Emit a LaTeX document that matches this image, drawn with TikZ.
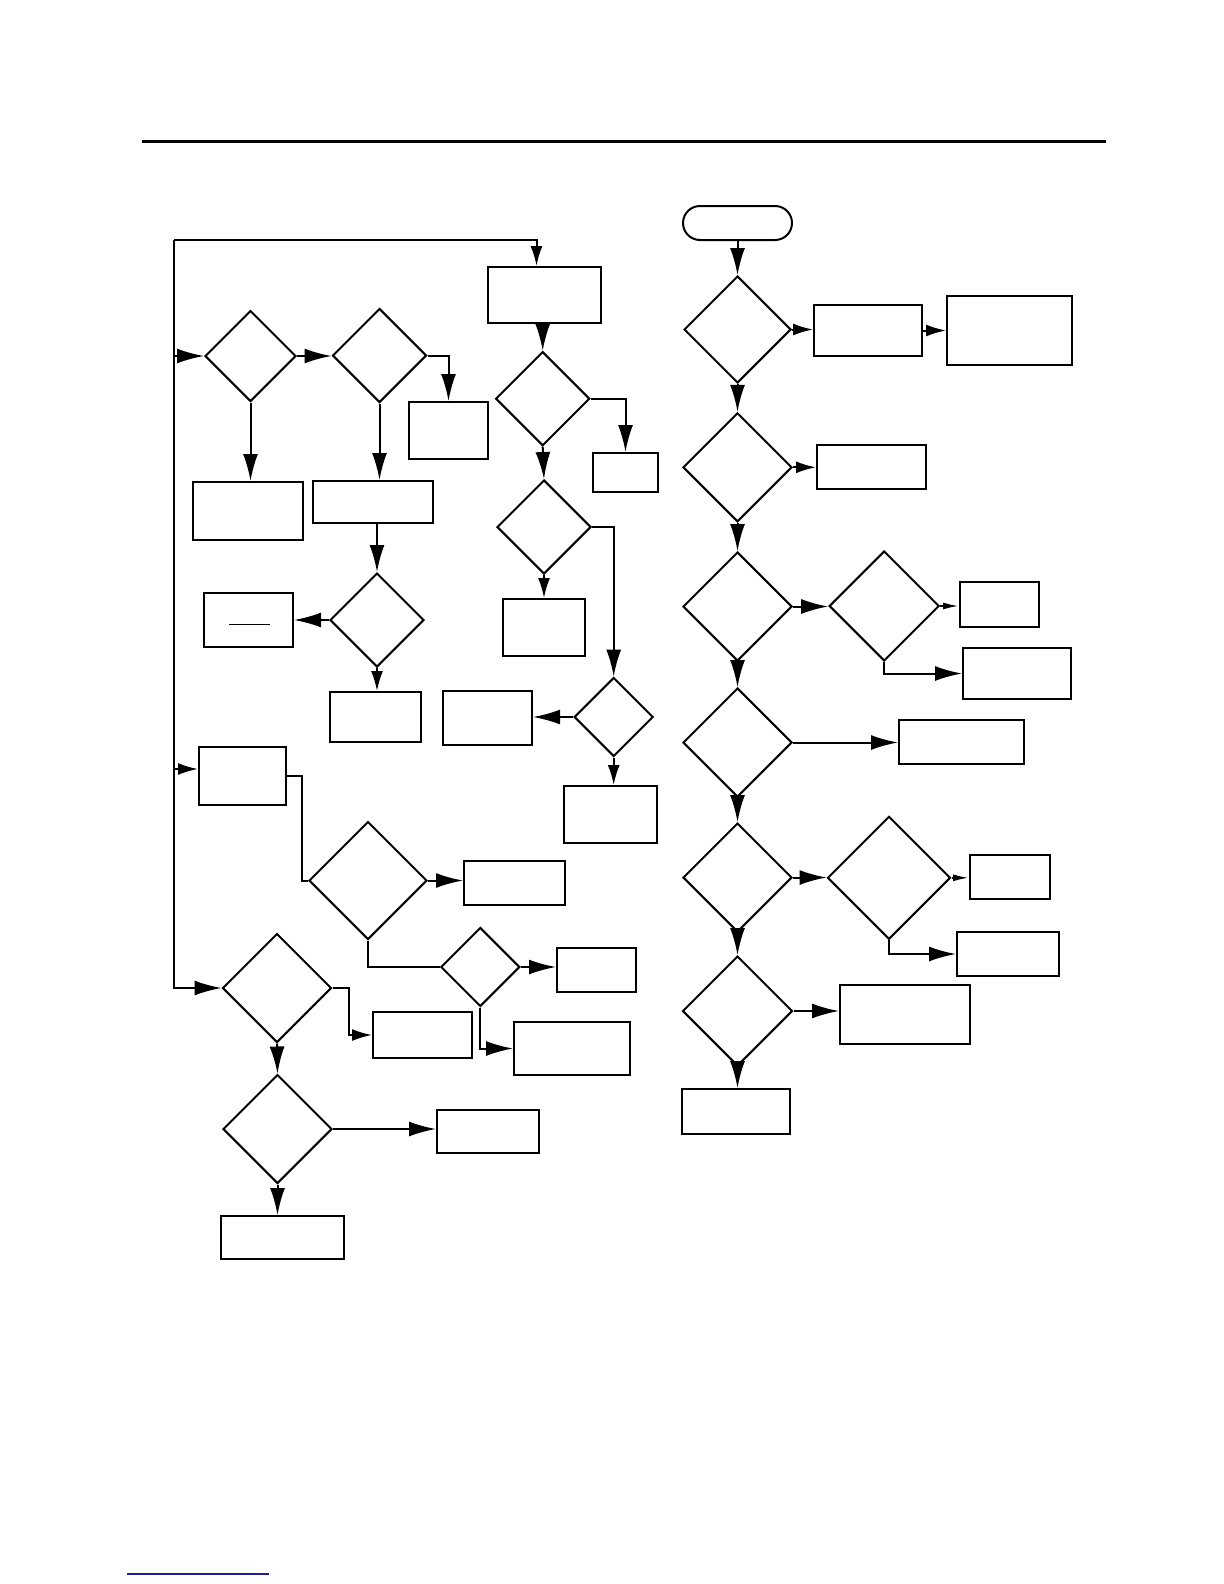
\documentclass[tikz,border=0pt]{standalone}
\usepackage{tikz}
\usetikzlibrary{arrows.meta,shapes.geometric}

\definecolor{linkblue}{RGB}{30,30,150}

\begin{document}
\begin{tikzpicture}[
  x=0.5bp, y=-0.5bp,
  line width=1bp,
  box/.style={draw, rectangle, inner sep=0pt},
  dec/.style={draw, diamond, inner sep=0pt, minimum size=#1},
  term/.style={draw, rectangle, rounded corners=8.5bp, inner sep=0pt},
  arr/.style={-{Latex[length=13.5bp,width=7.5bp]}},
  arrmd/.style={-{Latex[length=10bp,width=6bp]}},
  arrsm/.style={-{Latex[length=8bp,width=3.5bp]}},
]
\useasboundingbox (0,0) rectangle (1224,1584);

% page rules
\draw[line width=1.5bp] (142,141.5) -- (1106,141.5);
\draw[linkblue, line width=0.7bp] (127,1574) -- (269,1574);

% left part
\node[box, minimum width=56.5bp, minimum height=28bp] (init) at (544.5,295) {};
\node[dec=45.5bp] (q1) at (250.5,356) {};
\node[dec=47bp] (q2) at (379.5,355.5) {};
\node[box, minimum width=39.5bp, minimum height=28.5bp] (b2) at (448.5,430.5) {};
\node[box, minimum width=55bp, minimum height=29bp] (b1) at (248,511) {};
\node[box, minimum width=60bp, minimum height=21bp] (b3) at (373,502) {};
\node[dec=47bp] (q6) at (377,620) {};
\node[box, minimum width=44.5bp, minimum height=27bp] (frac) at (248.5,620) {};
\draw[line width=0.5bp] ([shift={(-19.5,4)}]frac.center) -- ([shift={(21.5,4)}]frac.center);
\node[box, minimum width=45.5bp, minimum height=25bp] (b6) at (375.5,717) {};

\node[dec=47bp] (q3) at (542.7,398.7) {};
\node[box, minimum width=32.5bp, minimum height=19.5bp] (b4) at (625.5,472.5) {};
\node[dec=47bp] (q4) at (544,527) {};
\node[box, minimum width=41bp, minimum height=28.5bp] (b5) at (544,627.5) {};
\node[dec=39.5bp] (q5) at (613.7,717) {};
\node[box, minimum width=44.5bp, minimum height=27bp] (b7) at (487.5,718) {};
\node[box, minimum width=46.5bp, minimum height=28.5bp] (b8) at (610.5,814.5) {};

\node[box, minimum width=43.5bp, minimum height=29bp] (loop) at (242.5,776) {};
\node[dec=59bp] (q7) at (368,880.5) {};
\node[box, minimum width=50.5bp, minimum height=22bp] (b9) at (514.5,883) {};
\node[dec=39.5bp] (q8) at (480.3,967) {};
\node[box, minimum width=39.5bp, minimum height=22bp] (b10) at (596.5,970) {};
\node[box, minimum width=58bp, minimum height=26.5bp] (b11) at (572,1048.5) {};

\node[dec=54.5bp] (q9) at (277,988) {};
\node[box, minimum width=49.5bp, minimum height=23bp] (b12) at (422.5,1035) {};
\node[dec=54.5bp] (q10) at (277.5,1129) {};
\node[box, minimum width=51bp, minimum height=21.5bp] (b13) at (488,1131.5) {};
\node[box, minimum width=61.5bp, minimum height=21.5bp] (b14) at (282.5,1237.5) {};

% right part
\node[term, minimum width=54.5bp, minimum height=17bp] (start) at (737.5,223) {};
\node[dec=53.5bp] (r1) at (737.5,329.5) {};
\node[box, minimum width=54bp, minimum height=25.5bp] (c1) at (868,330.5) {};
\node[box, minimum width=62.5bp, minimum height=34.5bp] (c2) at (1009.5,330.5) {};
\node[dec=54.5bp] (r2) at (737.5,467.3) {};
\node[box, minimum width=54.5bp, minimum height=22bp] (c3) at (871.5,467) {};
\node[dec=54.5bp] (r3) at (737.5,606.5) {};
\node[dec=55bp] (r4) at (884.2,606) {};
\node[box, minimum width=39.5bp, minimum height=22.5bp] (c4) at (999.5,604.5) {};
\node[box, minimum width=54bp, minimum height=25.5bp] (c5) at (1017,673.5) {};
\node[dec=54.5bp] (r5) at (737.5,742.5) {};
\node[box, minimum width=62.5bp, minimum height=22bp] (c6) at (961.5,742) {};
\node[dec=54.5bp] (r6) at (737.5,877.5) {};
\node[dec=61.5bp] (r7) at (889,877.8) {};
\node[box, minimum width=40bp, minimum height=22bp] (c7) at (1010,877) {};
\node[box, minimum width=51bp, minimum height=22bp] (c8) at (1008,954) {};
\node[dec=55bp] (r8) at (737.5,1011) {};
\node[box, minimum width=65bp, minimum height=29.5bp] (c9) at (905,1014.5) {};
\node[box, minimum width=54bp, minimum height=22.5bp] (c10) at (736,1111.5) {};

% trunk on the left
\coordinate (top) at (174,240);
\draw[arrmd] (top) -| ([xshift=-4bp]init.north);
\draw[arr] (top) |- (q9.west);
\draw[arr] (top |- q1.west) -- (q1.west);
\draw[arrmd] ([yshift=3.5bp]loop.west -| top) -- ([yshift=3.5bp]loop.west);

% left connectors
\draw[arr] (q1.east) -- (q1.east -| q2.west);
\draw[arr] (q2.east) -| (b2.north);
\draw[arr] (q1.south) -- (q1.south |- b1.north);
\draw[arr] (q2.south) -- (q2.south |- b3.north);
\draw[arr] (b3.south -| q6.north) -- (q6.north);
\draw[arr] (q6.west) -- (frac.east);
\draw[arrmd] (q6.south) -- (q6.south |- b6.north);
\draw[arr] (init.south -| q3.north) -- (q3.north);
\draw[arr] (q3.east) -| (b4.north);
\draw[arr] (q3.south) -- (q4.north);
\draw[arr] (q4.east) -| (q5.north);
\draw[arrmd] (q4.south) -- (q4.south |- b5.north);
\draw[arr] (q5.west) -- (q5.west -| b7.east);
\draw[arrmd] (q5.south) -- (q5.south |- b8.north);
\draw (loop.east) -- ++(7.5bp,0) |- (q7.west);
\draw[arr] (q7.east) -- (q7.east -| b9.west);
\draw (q7.south) |- (q8.west);
\draw[arr] (q8.east) -- (q8.east -| b10.west);
\draw[arr] (q8.south) |- (b11.west);
\draw[arrmd] (q9.east) -- ++(8bp,0) |- (b12.west);
\draw[arr] (q9.south) -- (q10.north);
\draw[arr] (q10.east) -- (q10.east -| b13.west);
\draw[arr] (q10.south) -- (q10.south |- b14.north);

% right connectors
\draw[arr] (start.south) -- (r1.north);
\draw[arrmd] (r1.east) -- (r1.east -| c1.west);
\draw[arrmd] (c1.east) -- (c1.east -| c2.west);
\draw[arr] (r1.south) -- (r2.north);
\draw[arrmd] (r2.east) -- (r2.east -| c3.west);
\draw[arr] (r2.south) -- (r3.north);
\draw[arr] (r3.east) -- (r3.east -| r4.west);
\draw[arrsm] (r4.east) -- (r4.east -| c4.west);
\draw[arr] (r4.south) |- (c5.west);
\draw[arr] (r3.south) -- (r5.north);
\draw[arr] (r5.east) -- (r5.east -| c6.west);
\draw[arr] (r5.south) -- (r6.north);
\draw[arr] (r6.east) -- (r6.east -| r7.west);
\draw[arrsm] (r7.east) -- (r7.east -| c7.west);
\draw[arr] (r7.south) |- (c8.west);
\draw[arr] (r6.south) -- (r8.north);
\draw[arr] (r8.east) -- (r8.east -| c9.west);
\draw[arr] (r8.south) -- (r8.south |- c10.north);
\end{tikzpicture}
\end{document}
